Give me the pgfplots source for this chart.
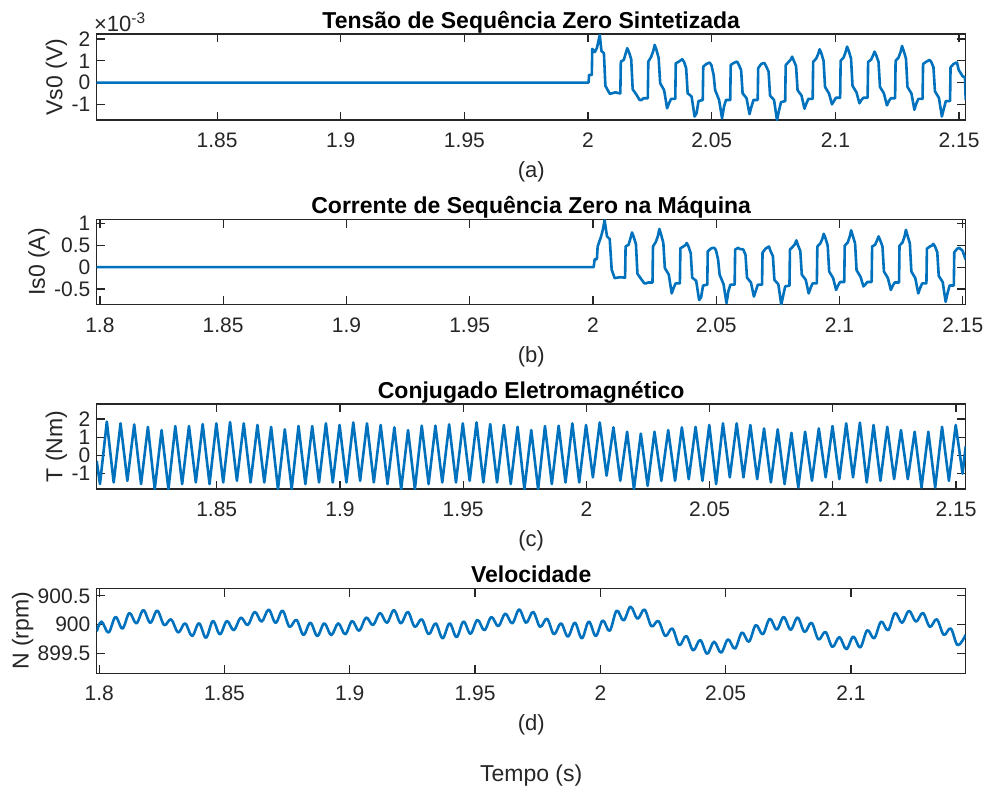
\documentclass[border=0pt]{standalone}
\usepackage{fontspec}
\setmainfont{Liberation Sans}
\usepackage{pgfplots}
\pgfplotsset{compat=1.18}

\definecolor{mblue}{RGB}{0,114,189}
\definecolor{agray}{RGB}{38,38,38}

\pgfplotsset{
  sig/.style={draw=mblue, line width=1.3pt, line join=round, no markers},
  panel/.style={
    scale only axis, width=434.5pt, anchor=north west,
    axis line style={draw=agray, line width=0.6pt},
    tick style={draw=agray, line width=0.6pt},
    tick align=inside, major tick length=4.2pt,
    /pgf/number format/assume math mode=true,
    ticklabel style={font=\fontsize{10.5}{12}\selectfont, text=agray, inner sep=0pt},
    xticklabel style={anchor=north, yshift=-6.3pt},
    yticklabel style={anchor=east, xshift=-3pt},
    label style={font=\fontsize{11.5}{13}\selectfont, text=agray},
    ylabel style={inner sep=2pt},
    xlabel style={at={(axis description cs:0.5,0)}, anchor=north, inner sep=0pt,
      yshift=-20.5pt, font=\fontsize{11}{13}\selectfont},
    every axis title/.style={font=\bfseries\fontsize{11.5}{13}\selectfont, text=black,
      at={(axis description cs:0.5,1)}, anchor=base, yshift=2.8pt},
    scaled y ticks=false, scaled x ticks=false,
  },
}

\begin{document}
\begin{tikzpicture}
\path[use as bounding box] (0,0) rectangle (492.5pt,-397pt);

% (a) zero sequence voltage, values in 1e-3 V
\begin{axis}[panel, at={(48.35pt,-17pt)}, height=43pt,
  xmin=1.8013, xmax=2.1527, ymin=-1.72, ymax=2.23,
  xtick={1.85,1.9,1.95,2,2.05,2.1,2.15}, ytick={-1,0,1,2},
  scaled y ticks=manual:{×10\textsuperscript{-3}}{\pgfmathparse{#1}},
  every y tick scale label/.style={at={(axis description cs:0,1)}, anchor=south west,
    inner sep=0pt, xshift=1.5pt, yshift=0.8pt, font=\fontsize{11}{12}\selectfont, text=agray},
  title={Tensão de Sequência Zero Sintetizada}, ylabel={Vs0 (V)}, xlabel={(a)}]
\addplot[sig] coordinates {
(1.8013,0)(2.0002,0)(2.0004,0.35)(2.0015,0.35)(2.0017,1.55)(2.0027,1.40)(2.0036,1.60)
(2.00473,2.19)(2.0054,1.45)(2.0064,1.35)(2.0070,-0.15)(2.0082,-0.40)(2.0088,-0.52)(2.0110,-0.45)
(2.01304,-0.50)(2.01324,0.96)(2.01444,1.04)(2.01524,1.35)(2.01584,1.58)(2.01654,1.40)
(2.01744,1.07)(2.01804,-0.31)(2.01964,-0.57)(2.02084,-0.80)(2.02164,-0.80)(2.02244,-0.72)
(2.02415,-0.72)(2.02435,0.96)(2.02555,1.19)(2.02635,1.45)(2.02695,1.73)(2.02765,1.50)
(2.02855,1.12)(2.02915,-0.03)(2.03075,-0.35)(2.03195,-1.18)(2.03275,-0.95)(2.03355,-0.75)
(2.03526,-0.75)(2.03546,0.88)(2.03666,0.96)(2.03746,1.02)(2.03806,1.07)(2.03876,0.96)
(2.03966,0.66)(2.04026,-0.49)(2.04186,-0.64)(2.04306,-1.56)(2.04386,-1.41)(2.04466,-0.85)
(2.04637,-0.80)(2.04657,0.73)(2.04777,0.85)(2.04857,0.89)(2.04917,0.92)(2.04987,0.80)
(2.05077,0.35)(2.05137,-0.34)(2.05297,-0.80)(2.05417,-1.64)(2.05497,-1.10)(2.05577,-0.80)
(2.05748,-0.80)(2.05768,0.81)(2.05888,0.90)(2.05968,0.94)(2.06028,0.96)(2.06098,0.81)
(2.06188,0.58)(2.06248,-0.49)(2.06408,-0.72)(2.06528,-1.45)(2.06608,-1.10)(2.06688,-0.80)
(2.06859,-0.80)(2.06879,0.66)(2.06999,0.85)(2.07079,0.89)(2.07139,0.89)(2.07209,0.73)
(2.07299,0.50)(2.07359,-0.60)(2.07519,-0.80)(2.07639,-1.72)(2.07719,-1.30)(2.07799,-0.90)
(2.07971,-0.85)(2.07991,0.80)(2.08111,0.95)(2.08191,1.05)(2.08251,1.19)(2.08321,1.00)
(2.08411,0.75)(2.08471,-0.35)(2.08631,-0.60)(2.08751,-1.20)(2.08831,-0.95)(2.08911,-0.75)
(2.09082,-0.75)(2.09102,0.95)(2.09222,1.10)(2.09302,1.30)(2.09362,1.53)(2.09432,1.35)
(2.09522,1.00)(2.09582,-0.20)(2.09742,-0.50)(2.09862,-1.00)(2.09942,-0.85)(2.10022,-0.70)
(2.10193,-0.70)(2.10213,1.00)(2.10333,1.15)(2.10413,1.40)(2.10473,1.65)(2.10543,1.45)
(2.10633,1.10)(2.10693,-0.15)(2.10853,-0.45)(2.10973,-0.95)(2.11053,-0.80)(2.11133,-0.70)
(2.11304,-0.70)(2.11324,0.95)(2.11444,1.05)(2.11524,1.25)(2.11584,1.42)(2.11654,1.25)
(2.11744,0.95)(2.11804,-0.20)(2.11964,-0.50)(2.12084,-1.05)(2.12164,-0.85)(2.12244,-0.72)
(2.12415,-0.72)(2.12435,1.00)(2.12555,1.15)(2.12635,1.40)(2.12695,1.68)(2.12765,1.45)
(2.12855,1.10)(2.12915,-0.20)(2.13075,-0.50)(2.13195,-1.25)(2.13275,-0.95)(2.13355,-0.75)
(2.13526,-0.75)(2.13546,0.85)(2.13666,0.95)(2.13746,1.00)(2.13806,1.04)(2.13876,0.95)
(2.13966,0.70)(2.14026,-0.40)(2.14186,-0.70)(2.14306,-1.56)(2.14386,-1.20)(2.14466,-0.85)
(2.14637,-0.85)(2.14657,0.70)(2.14777,0.85)(2.14857,0.90)(2.14917,0.92)(2.14987,0.58)
(2.1515,0.28)(2.1524,0.25)(2.1527,-0.80)
};
\end{axis}

% (b) zero sequence current
\begin{axis}[panel, at={(48.35pt,-109.65pt)}, height=42.7pt,
  xmin=1.7987, xmax=2.1512, ymin=-0.857, ymax=1.09,
  xtick={1.8,1.85,1.9,1.95,2,2.05,2.1,2.15}, ytick={-0.5,0,0.5,1},
  title={Corrente de Sequência Zero na Máquina}, ylabel={Is0 (A)}, xlabel={(b)}]
\addplot[sig] coordinates {
(1.7987,0)(2.0003,0)(2.0007,0.18)(2.0016,0.18)(2.0019,0.47)(2.0033,0.70)(2.0040,0.85)
(2.00473,1.07)(2.0057,0.70)(2.0068,0.64)(2.0076,-0.06)(2.0088,-0.25)(2.0110,-0.23)
(2.01304,-0.24)(2.01324,0.47)(2.01444,0.51)(2.01524,0.66)(2.01584,0.79)(2.01654,0.69)
(2.01744,0.52)(2.01804,-0.15)(2.01964,-0.28)(2.02084,-0.37)(2.02164,-0.37)(2.02244,-0.35)
(2.02415,-0.35)(2.02435,0.47)(2.02555,0.58)(2.02635,0.71)(2.02695,0.87)(2.02765,0.74)
(2.02855,0.55)(2.02915,-0.02)(2.03075,-0.17)(2.03195,-0.60)(2.03275,-0.47)(2.03355,-0.37)
(2.03526,-0.37)(2.03546,0.43)(2.03666,0.47)(2.03746,0.50)(2.03806,0.55)(2.03876,0.47)
(2.03966,0.32)(2.04026,-0.24)(2.04186,-0.31)(2.04306,-0.75)(2.04386,-0.69)(2.04466,-0.42)
(2.04637,-0.40)(2.04657,0.36)(2.04777,0.42)(2.04857,0.44)(2.04917,0.44)(2.04987,0.39)
(2.05077,0.17)(2.05137,-0.17)(2.05297,-0.39)(2.05417,-0.82)(2.05497,-0.54)(2.05577,-0.40)
(2.05748,-0.40)(2.05768,0.40)(2.05888,0.44)(2.05968,0.41)(2.06028,0.41)(2.06098,0.40)
(2.06188,0.28)(2.06248,-0.24)(2.06408,-0.35)(2.06528,-0.67)(2.06608,-0.54)(2.06688,-0.40)
(2.06859,-0.40)(2.06879,0.33)(2.06999,0.42)(2.07079,0.45)(2.07139,0.47)(2.07209,0.36)
(2.07299,0.25)(2.07359,-0.29)(2.07519,-0.39)(2.07639,-0.86)(2.07719,-0.64)(2.07799,-0.44)
(2.07971,-0.42)(2.07991,0.40)(2.08111,0.47)(2.08191,0.52)(2.08251,0.61)(2.08321,0.49)
(2.08411,0.37)(2.08471,-0.17)(2.08631,-0.29)(2.08751,-0.60)(2.08831,-0.47)(2.08911,-0.37)
(2.09082,-0.37)(2.09102,0.47)(2.09222,0.54)(2.09302,0.64)(2.09362,0.76)(2.09432,0.66)
(2.09522,0.49)(2.09582,-0.10)(2.09742,-0.25)(2.09862,-0.52)(2.09942,-0.42)(2.10022,-0.34)
(2.10193,-0.34)(2.10213,0.49)(2.10333,0.56)(2.10413,0.69)(2.10473,0.84)(2.10543,0.71)
(2.10633,0.54)(2.10693,-0.07)(2.10853,-0.22)(2.10973,-0.44)(2.11053,-0.39)(2.11133,-0.34)
(2.11304,-0.34)(2.11324,0.47)(2.11444,0.51)(2.11524,0.61)(2.11584,0.70)(2.11654,0.61)
(2.11744,0.47)(2.11804,-0.10)(2.11964,-0.25)(2.12084,-0.52)(2.12164,-0.42)(2.12244,-0.35)
(2.12415,-0.35)(2.12435,0.49)(2.12555,0.56)(2.12635,0.69)(2.12695,0.85)(2.12765,0.71)
(2.12855,0.54)(2.12915,-0.10)(2.13075,-0.25)(2.13195,-0.60)(2.13275,-0.47)(2.13355,-0.37)
(2.13526,-0.37)(2.13546,0.42)(2.13666,0.47)(2.13746,0.49)(2.13806,0.53)(2.13876,0.47)
(2.13966,0.34)(2.14026,-0.20)(2.14186,-0.34)(2.14306,-0.79)(2.14386,-0.59)(2.14466,-0.42)
(2.14637,-0.42)(2.14657,0.34)(2.14777,0.42)(2.14857,0.44)(2.14917,0.41)(2.14987,0.38)
(2.1512,0.17)
};
\end{axis}

% (c) electromagnetic torque
\begin{axis}[panel, at={(48.35pt,-202pt)}, height=42.5pt,
  xmin=1.8013, xmax=2.1539, ymin=-1.84, ymax=2.82,
  xtick={1.85,1.9,1.95,2,2.05,2.1,2.15}, ytick={-1,0,1,2},
  title={Conjugado Eletromagnético}, ylabel={T (Nm)}, xlabel={(c)}]
\addplot[sig] coordinates {
(1.8013,-0.30)(1.80263,-1.57)(1.80541,1.85)(1.80819,-1.48)(1.81097,1.76)(1.81374,-1.39)
(1.81652,1.70)(1.81930,-1.57)(1.82208,1.57)(1.82485,-1.85)(1.82763,1.39)(1.83041,-1.85)
(1.83319,1.61)(1.83597,-1.57)(1.83874,1.61)(1.84152,-1.48)(1.84430,1.72)(1.84708,-1.57)
(1.84985,1.76)(1.85263,-1.48)(1.85541,1.83)(1.85819,-1.39)(1.86097,1.76)(1.86374,-1.48)
(1.86652,1.67)(1.86930,-1.48)(1.87208,1.57)(1.87485,-1.85)(1.87763,1.43)(1.88041,-1.85)
(1.88319,1.61)(1.88597,-1.57)(1.88874,1.61)(1.89152,-1.48)(1.89430,1.76)(1.89708,-1.48)
(1.89985,1.67)(1.90263,-1.48)(1.90541,1.81)(1.90819,-1.39)(1.91097,1.76)(1.91374,-1.48)
(1.91652,1.67)(1.91930,-1.57)(1.92208,1.54)(1.92485,-1.85)(1.92763,1.39)(1.93041,-1.85)
(1.93319,1.63)(1.93597,-1.57)(1.93874,1.63)(1.94152,-1.48)(1.94430,1.70)(1.94708,-1.48)
(1.94985,1.76)(1.95263,-1.39)(1.95541,1.81)(1.95819,-1.48)(1.96097,1.72)(1.96374,-1.48)
(1.96652,1.67)(1.96930,-1.57)(1.97208,1.57)(1.97485,-1.85)(1.97763,1.39)(1.98041,-1.85)
(1.98319,1.61)(1.98597,-1.57)(1.98874,1.63)(1.99152,-1.48)(1.99430,1.76)(1.99708,-1.48)
(1.99985,1.67)(2.00263,-1.20)(2.00541,1.81)(2.00819,-1.11)(2.01097,1.54)(2.01374,-1.39)
(2.01652,1.30)(2.01930,-1.85)(2.02208,1.20)(2.02485,-1.67)(2.02763,1.30)(2.03041,-1.39)
(2.03319,1.39)(2.03597,-1.39)(2.03874,1.54)(2.04152,-1.30)(2.04430,1.57)(2.04708,-1.39)
(2.04985,1.67)(2.05263,-1.57)(2.05541,1.76)(2.05819,-1.20)(2.06097,1.76)(2.06374,-1.20)
(2.06652,1.67)(2.06930,-1.30)(2.07208,1.48)(2.07485,-1.48)(2.07763,1.43)(2.08041,-1.57)
(2.08319,1.24)(2.08597,-1.76)(2.08874,1.30)(2.09152,-1.39)(2.09430,1.48)(2.09708,-1.20)
(2.09985,1.61)(2.10263,-1.30)(2.10541,1.76)(2.10819,-1.20)(2.11097,1.80)(2.11374,-1.48)
(2.11652,1.67)(2.11930,-1.39)(2.12208,1.57)(2.12485,-1.30)(2.12763,1.39)(2.13041,-1.30)
(2.13319,1.30)(2.13597,-1.76)(2.13874,1.30)(2.14152,-1.76)(2.14430,1.57)(2.14708,-1.39)
(2.14985,1.67)(2.15263,-1.00)(2.1539,0.50)
};
\end{axis}

% (d) speed
\begin{axis}[panel, at={(48.35pt,-294.15pt)}, height=42.5pt,
  xmin=1.799, xmax=2.1458, ymin=899.15, ymax=900.63,
  xtick={1.8,1.85,1.9,1.95,2,2.05,2.1}, ytick={899.5,900,900.5},
  yticklabels={899.5,900,900.5},
  title={Velocidade}, ylabel={N (rpm)}, xlabel={(d)}]
\addplot[sig, smooth, tension=0.6] coordinates {
(1.799,899.88)
(1.80094,900.05)(1.80372,899.86)(1.80650,900.13)(1.80928,899.93)(1.81205,900.20)(1.81483,900.02)
(1.81761,900.25)(1.82039,900.03)(1.82316,900.24)(1.82594,899.99)(1.82872,900.09)(1.83150,899.86)
(1.83427,900.02)(1.83705,899.80)(1.83983,900.02)(1.84261,899.77)(1.84538,900.06)(1.84816,899.83)
(1.85094,900.06)(1.85372,899.90)(1.85650,900.12)(1.85928,899.99)(1.86205,900.22)(1.86483,900.05)
(1.86761,900.26)(1.87039,900.03)(1.87316,900.24)(1.87594,899.96)(1.87872,900.08)(1.88150,899.82)
(1.88427,900.03)(1.88705,899.80)(1.88983,900.02)(1.89261,899.815)(1.89539,900.02)(1.89817,899.83)
(1.90094,900.06)(1.90372,899.89)(1.90650,900.12)(1.90928,899.99)(1.91205,900.20)(1.91483,900.03)
(1.91761,900.25)(1.92039,900.02)(1.92316,900.22)(1.92594,899.96)(1.92872,900.09)(1.93150,899.83)
(1.93427,900.02)(1.93705,899.76)(1.93983,900.02)(1.94261,899.78)(1.94538,900.05)(1.94816,899.84)
(1.95094,900.08)(1.95372,899.90)(1.95650,900.13)(1.95928,899.97)(1.96205,900.19)(1.96483,900.02)
(1.96761,900.26)(1.97039,900.03)(1.97316,900.22)(1.97594,899.96)(1.97872,900.10)(1.98150,899.83)
(1.98427,900.02)(1.98705,899.79)(1.98983,900.03)(1.99261,899.76)(1.99539,900.05)(1.99817,899.80)
(2.00094,900.07)(2.00372,899.89)(2.00650,900.24)(2.00928,900.07)(2.01205,900.31)(2.01483,900.10)
(2.01761,900.26)(2.02039,899.97)(2.02316,900.06)(2.02594,899.80)(2.02872,899.93)(2.03150,899.64)
(2.03427,899.80)(2.03705,899.55)(2.03983,899.73)(2.04261,899.49)(2.04538,899.70)(2.04816,899.51)
(2.05094,899.74)(2.05372,899.58)(2.05650,899.86)(2.05928,899.70)(2.06205,899.99)(2.06483,899.83)
(2.06761,900.10)(2.07039,899.91)(2.07316,900.13)(2.07594,899.91)(2.07872,900.12)(2.08150,899.87)
(2.08427,900.03)(2.08705,899.74)(2.08983,899.87)(2.09261,899.61)(2.09539,899.78)(2.09817,899.57)
(2.10094,899.79)(2.10372,899.60)(2.10650,899.90)(2.10928,899.76)(2.11205,900.05)(2.11483,899.90)
(2.11761,900.20)(2.12039,900.03)(2.12316,900.24)(2.12594,900.05)(2.12872,900.20)(2.13150,899.96)
(2.13427,900.09)(2.13705,899.82)(2.13983,899.93)(2.14261,899.64)(2.1458,899.82)
};
\end{axis}

\node[font=\fontsize{11.5}{13}\selectfont, text=agray] at (265.6pt,-388pt) {Tempo (s)};
\end{tikzpicture}
\end{document}
